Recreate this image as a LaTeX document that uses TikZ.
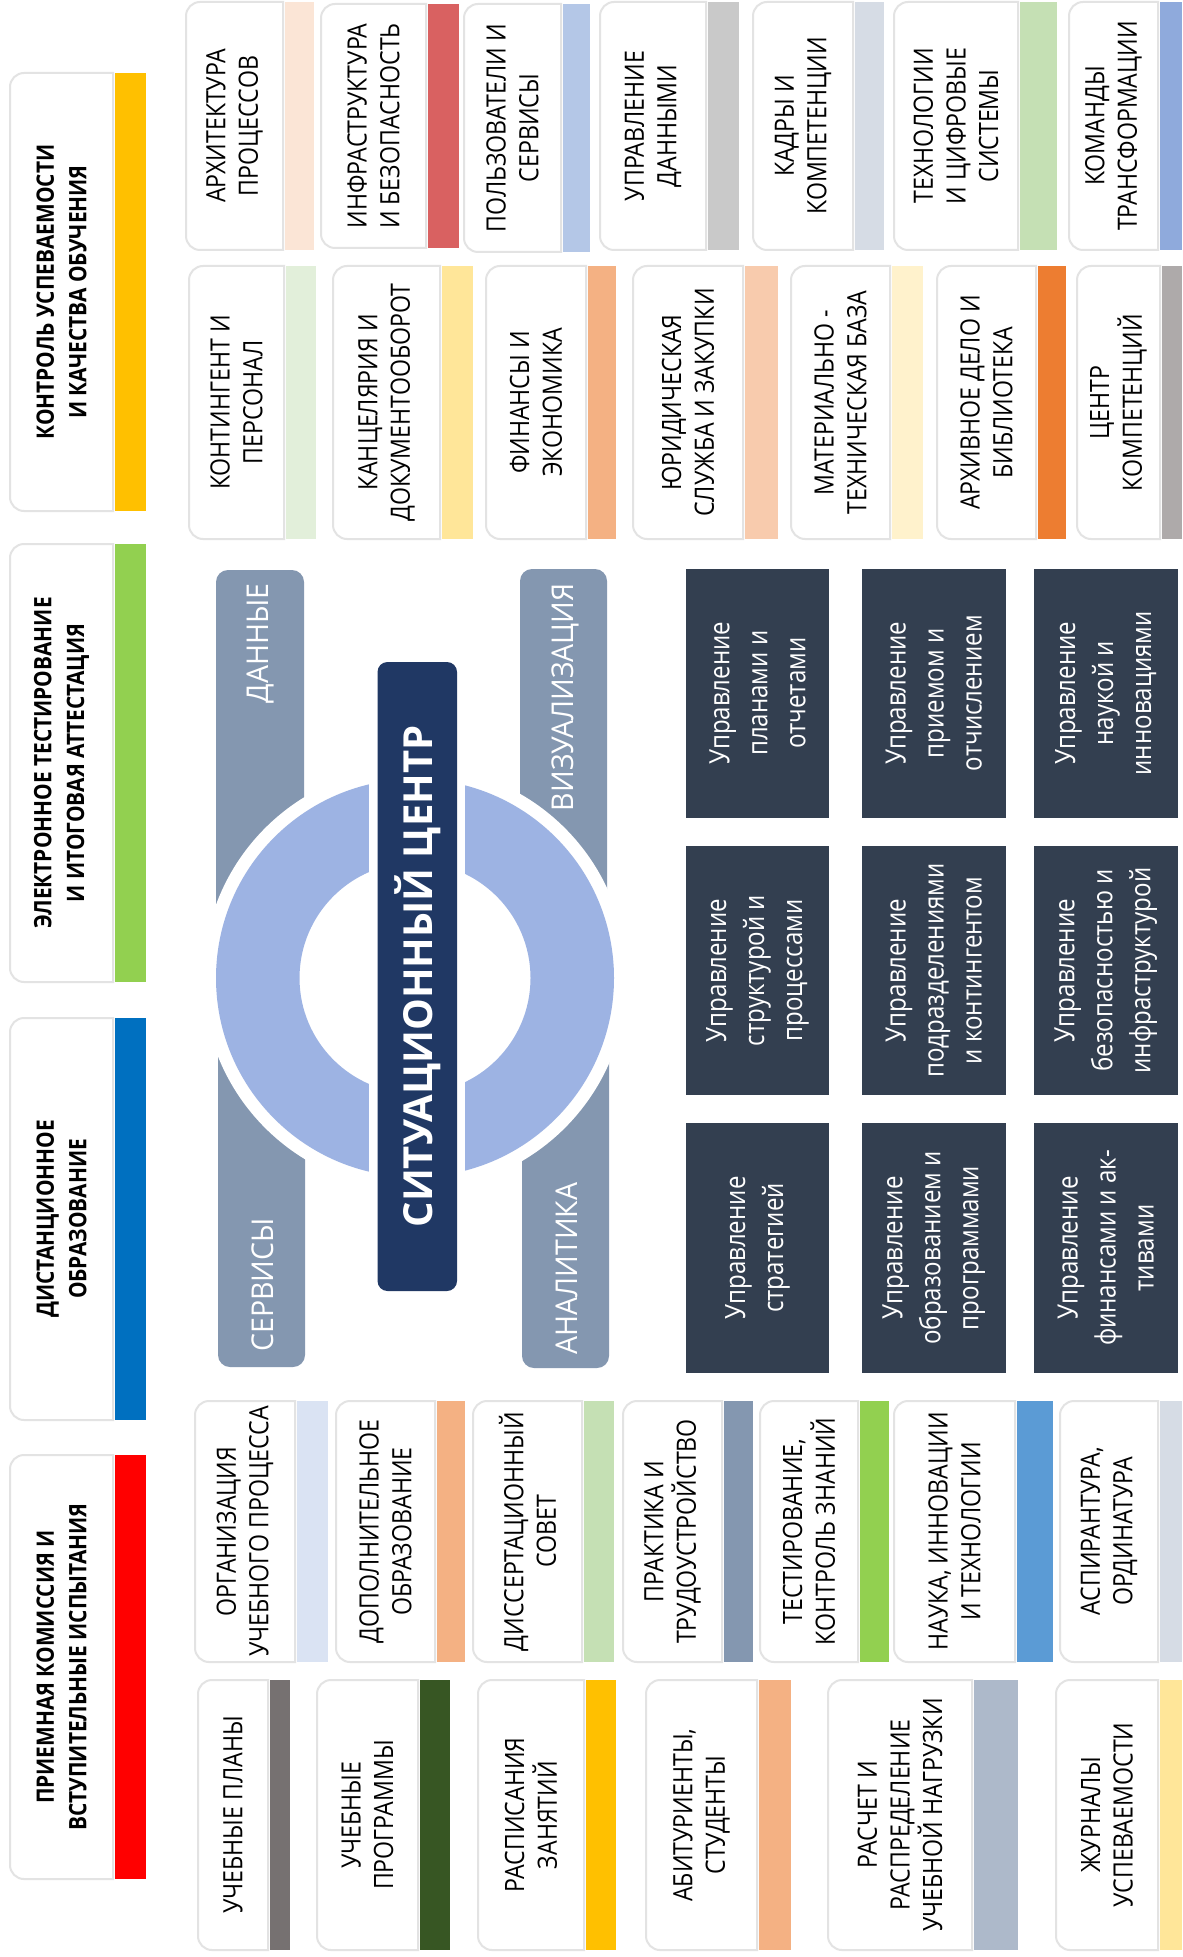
\documentclass[tikz,border=0pt]{standalone}
\usepackage{fontspec}
\setmainfont{Open Sans}[FakeStretch=0.87]
\newfontfamily\titlef{Open Sans}
\newfontfamily\grayf{Open Sans}[FakeStretch=0.95]
\newfontfamily\condf{Open Sans}[FakeStretch=0.86]
\definecolor{boxline}{HTML}{E3E3E3}
\definecolor{graybar}{HTML}{8497B0}
\definecolor{ringc}{HTML}{9DB3E3}
\definecolor{navyc}{HTML}{203864}
\definecolor{darkc}{HTML}{333F50}
\tikzset{
  wbox/.style={fill=white, draw=boxline, line width=1pt},
  lbl/.style={rotate=90, align=center, text=black, inner sep=0pt, font=\fontsize{13.3}{16.3}\selectfont},
  biglbl/.style={rotate=90, align=center, text=black, inner sep=0pt, font=\bfseries\fontsize{12}{16.3}\selectfont},
  dlbl/.style={rotate=90, align=center, text=white, inner sep=0pt, font=\condf\fontsize{14}{19}\selectfont},
  glbl/.style={rotate=90, text=white, inner sep=0pt, font=\grayf\fontsize{15}{17}\selectfont},
  ttl/.style={rotate=90, text=white, inner sep=0pt, font=\titlef\bfseries\fontsize{20}{24}\selectfont},
}
% [style]{name}{x1}{x2}{x3}{y1}{y2}{colour HTML}{text}
\newcommand\mkbox[9][lbl]{%
  \definecolor{barc}{HTML}{#8}%
  \fill[barc] ({#4+1.5},#6) rectangle (#5,#7);
  \path[wbox] (#4,#6) -- ({#3+14},#6) .. controls ({#3+6.3},#6) and (#3,{#6+6.3}) .. (#3,{#6+14})
     -- (#3,{#7-14}) .. controls (#3,{#7-6.3}) and ({#3+6.3},#7) .. ({#3+14},#7) -- (#4,#7) -- cycle;
  \node[#1] (#2) at ({(#3+#4)/2},{(#6+#7)/2}) {#9};
}
% {name}{x1}{x2}{y1}{y2}{text}
\newcommand\mkdark[6]{%
  \fill[darkc] (#2,#4) rectangle (#3,#5);
  \node[dlbl] (#1) at ({(#2+#3)/2},{(#4+#5)/2}) {#6};
}
\begin{document}
\begin{tikzpicture}[x=0.5pt,y=-0.5pt]
\useasboundingbox[fill=white] (0,0) rectangle (1182,1957);

% left column
\mkbox[biglbl]{L1}{10}{113}{146}{73}{511}{FFC000}{КОНТРОЛЬ УСПЕВАЕМОСТИ\\И КАЧЕСТВА ОБУЧЕНИЯ}
\mkbox[biglbl]{L2}{10}{113}{146}{544}{982}{92D050}{ЭЛЕКТРОННОЕ ТЕСТИРОВАНИЕ\\И ИТОГОВАЯ АТТЕСТАЦИЯ}
\mkbox[biglbl]{L3}{10}{113}{146}{1018}{1420}{0070C0}{ДИСТАНЦИОННОЕ\\ОБРАЗОВАНИЕ}
\mkbox[biglbl]{L4}{10}{113}{146}{1455}{1879}{FF0000}{ПРИЕМНАЯ КОМИССИЯ И\\ВСТУПИТЕЛЬНЫЕ ИСПЫТАНИЯ}

% top row 1
\mkbox{t1}{186}{283}{314}{2}{250}{FBE5D6}{АРХИТЕКТУРА\\ПРОЦЕССОВ}
\mkbox{t2}{321}{426}{459}{4}{248}{D96161}{ИНФРАСТРУКТУРА\\И БЕЗОПАСНОСТЬ}
\mkbox{t3}{464}{561}{590}{4}{252}{B4C7E7}{ПОЛЬЗОВАТЕЛИ И\\СЕРВИСЫ}
\mkbox{t4}{600}{706}{739}{2}{250}{C9C9C9}{УПРАВЛЕНИЕ\\ДАННЫМИ}
\mkbox{t5}{753}{853}{884}{2}{250}{D6DCE5}{КАДРЫ И\\КОМПЕТЕНЦИИ}
\mkbox{t6}{894}{1018}{1057}{2}{250}{C5E0B4}{ТЕХНОЛОГИИ\\И ЦИФРОВЫЕ\\СИСТЕМЫ}
\mkbox{t7}{1069}{1158}{1182}{2}{250}{8FAADC}{КОМАНДЫ\\ТРАНСФОРМАЦИИ}

% top row 2
\mkbox{m1}{189}{284}{316}{266}{539}{E2EFDA}{КОНТИНГЕНТ И\\ПЕРСОНАЛ}
\mkbox{m2}{333}{440}{473}{266}{539}{FFE699}{КАНЦЕЛЯРИЯ И\\ДОКУМЕНТООБОРОТ}
\mkbox{m3}{486}{586}{616}{266}{539}{F4B183}{ФИНАНСЫ И\\ЭКОНОМИКА}
\mkbox{m4}{633}{743}{778}{266}{539}{F8CBAD}{ЮРИДИЧЕСКАЯ\\СЛУЖБА И ЗАКУПКИ}
\mkbox{m5}{791}{890}{923}{266}{539}{FFF2CC}{МАТЕРИАЛЬНО -\\ТЕХНИЧЕСКАЯ БАЗА}
\mkbox{m6}{937}{1036}{1066}{266}{539}{ED7D31}{АРХИВНОЕ ДЕЛО И\\БИБЛИОТЕКА}
\mkbox{m7}{1077}{1160}{1182}{266}{539}{AEAAAA}{ЦЕНТР\\КОМПЕТЕНЦИЙ}

% bottom row A
\mkbox{a1}{195}{295}{328}{1401}{1662}{DAE3F3}{ОРГАНИЗАЦИЯ\\УЧЕБНОГО ПРОЦЕССА}
\mkbox{a2}{336}{435}{465}{1401}{1662}{F4B183}{ДОПОЛНИТЕЛЬНОЕ\\ОБРАЗОВАНИЕ}
\mkbox{a3}{473}{582}{614}{1401}{1662}{C5E0B4}{ДИССЕРТАЦИОННЫЙ\\СОВЕТ}
\mkbox{a4}{623}{722}{753}{1401}{1662}{8497B0}{ПРАКТИКА И\\ТРУДОУСТРОЙСТВО}
\mkbox{a5}{760}{858}{889}{1401}{1662}{92D050}{ТЕСТИРОВАНИЕ,\\КОНТРОЛЬ ЗНАНИЙ}
\mkbox{a6}{894}{1015}{1053}{1401}{1662}{5B9BD5}{НАУКА, ИННОВАЦИИ\\И ТЕХНОЛОГИИ}
\mkbox{a7}{1060}{1158}{1182}{1401}{1662}{D6DCE5}{АСПИРАНТУРА,\\ОРДИНАТУРА}

% bottom row B
\mkbox{b1}{198}{268}{290}{1680}{1950}{767171}{УЧЕБНЫЕ ПЛАНЫ}
\mkbox{b2}{317}{418}{450}{1680}{1950}{375623}{УЧЕБНЫЕ\\ПРОГРАММЫ}
\mkbox{b3}{478}{584}{616}{1680}{1950}{FFC000}{РАСПИСАНИЯ\\ЗАНЯТИЙ}
\mkbox{b4}{646}{757}{791}{1680}{1950}{F4B183}{АБИТУРИЕНТЫ,\\СТУДЕНТЫ}
\mkbox{b5}{828}{972}{1018}{1680}{1950}{ADB9CA}{РАСЧЕТ И\\РАСПРЕДЕЛЕНИЕ\\УЧЕБНОЙ НАГРУЗКИ}
\mkbox{b6}{1056}{1158}{1182}{1680}{1950}{FFE699}{ЖУРНАЛЫ\\УСПЕВАЕМОСТИ}

% situational centre
\fill[graybar, rounded corners=6pt] (216,570) rectangle (304,978);
\fill[graybar, rounded corners=6pt] (520,569) rectangle (607,978);
\fill[graybar, rounded corners=6pt] (218,978) rectangle (305,1367);
\fill[graybar, rounded corners=6pt] (522,978) rectangle (609,1368);
\fill[white] (415,978) circle[radius=212];
\fill[ringc, even odd rule] (415,978) circle[radius=199] (415,978) circle[radius=115.5];
\fill[white] (369,760) rectangle (465,1200);
\fill[navyc, rounded corners=5pt] (377.5,662) rectangle (457,1291);
\node[ttl] (title) at (418,976.5) {СИТУАЦИОННЫЙ ЦЕНТР};
\node[glbl, anchor=east] (gdata) at (261,583) {ДАННЫЕ};
\node[glbl, anchor=east] (gvis) at (565,583) {ВИЗУАЛИЗАЦИЯ};
\node[glbl, anchor=west] (gserv) at (263,1352) {СЕРВИСЫ};
\node[glbl, anchor=west] (ganal) at (567,1355) {АНАЛИТИКА};

% management blocks
\mkdark{d11}{685.6}{829.4}{568.5}{818}{Управление\\планами и\\отчетами}
\mkdark{d21}{861.6}{1005.7}{568.5}{818}{Управление\\приемом и\\отчислением}
\mkdark{d31}{1034}{1177.5}{568.5}{818}{Управление\\наукой и\\инновациями}
\mkdark{d12}{685.6}{829.4}{846}{1095}{Управление\\структурой и\\процессами}
\mkdark{d22}{861.6}{1005.7}{846}{1095}{Управление\\подразделениями\\и контингентом}
\mkdark{d32}{1034}{1177.5}{846}{1095}{Управление\\безопасностью и\\инфраструктурой}
\mkdark{d13}{685.6}{829.4}{1123}{1373}{Управление\\стратегией}
\mkdark{d23}{861.6}{1005.7}{1123}{1373}{Управление\\образованием и\\программами}
\mkdark{d33}{1034}{1177.5}{1123}{1373}{Управление\\финансами и ак-\\тивами}
\end{tikzpicture}
\end{document}
